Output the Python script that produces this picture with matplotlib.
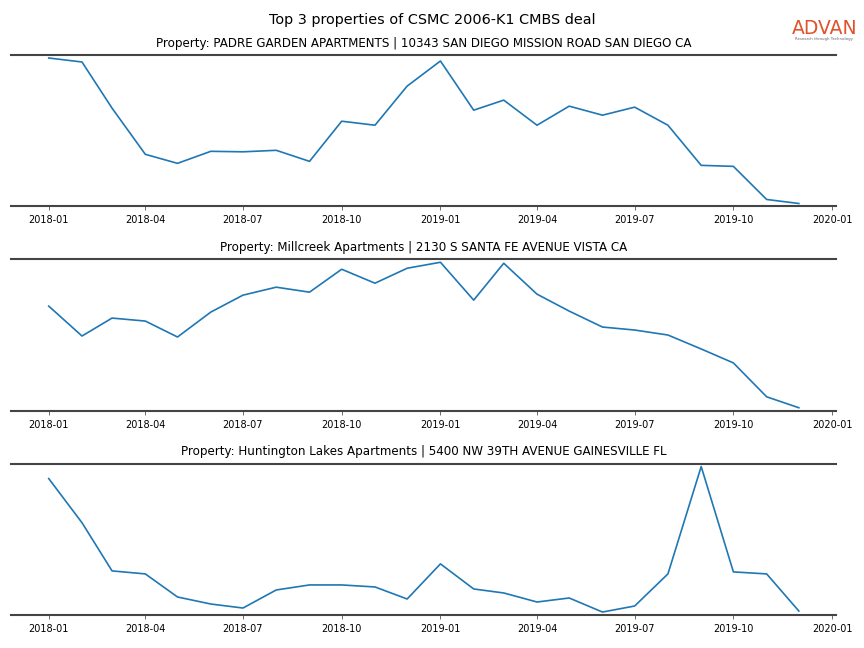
import numpy as np
import pandas as pd
import matplotlib
matplotlib.use('Agg')
import matplotlib.pyplot as plt
import matplotlib.dates as mdates

# monthly activity per property (arbitrary units)
months = pd.date_range('2018-01-01', '2019-12-01', freq='MS')

titles = [
    'Property: PADRE GARDEN APARTMENTS | 10343 SAN DIEGO MISSION ROAD SAN DIEGO CA',
    'Property: Millcreek Apartments | 2130 S SANTA FE AVENUE VISTA CA',
    'Property: Huntington Lakes Apartments | 5400 NW 39TH AVENUE GAINESVILLE FL',
]

padre = [148, 144, 98, 52, 43, 55, 54.5, 56, 45, 85, 81, 120,
         145, 96, 106, 81, 100, 91, 99, 81, 41, 40, 7, 3]
millcreek = [104, 74, 92, 89, 73, 98, 115, 123, 118, 141, 127, 142,
             148, 110, 147, 116, 99, 83, 80, 75, 61, 47, 13, 2]
huntington = [136, 92, 44, 41, 18, 11, 7, 25, 30, 30, 28, 16,
              51, 26, 22, 13, 17, 3, 9, 41, 148, 43, 41, 4]

series = [padre, millcreek, huntington]

fig, axes = plt.subplots(3, 1, figsize=(8.64, 6.48), dpi=100)
fig.subplots_adjust(left=0.013, right=0.968, top=0.915, bottom=0.051, hspace=0.35)

for ax, vals, title in zip(axes, series, titles):
    ax.plot(months, vals, color='#1f77b4', linewidth=1.2)
    ax.margins(y=0.02)
    ax.set_title(title, fontsize=8.6, pad=6)
    ax.set_yticks([])
    ax.spines['left'].set_visible(False)
    ax.spines['right'].set_visible(False)
    for s in ['top', 'bottom']:
        ax.spines[s].set_color('#444444')
        ax.spines[s].set_linewidth(1.5)
    ax.xaxis.set_major_locator(mdates.MonthLocator(bymonth=[1, 4, 7, 10]))
    ax.xaxis.set_major_formatter(mdates.DateFormatter('%Y-%m'))
    ax.tick_params(axis='x', labelsize=7, length=3, width=0.6, color='#555555')

fig.suptitle('Top 3 properties of CSMC 2006-K1 CMBS deal', fontsize=10.4, y=0.98)

# logo
fig.text(0.954, 0.956, 'ADVAN', color='#e0522a', fontsize=13.5, ha='center', va='center')
fig.text(0.954, 0.94, 'Research through Technology', color='#666666', fontsize=2.8,
         ha='center', va='center')

plt.savefig('out.png')
